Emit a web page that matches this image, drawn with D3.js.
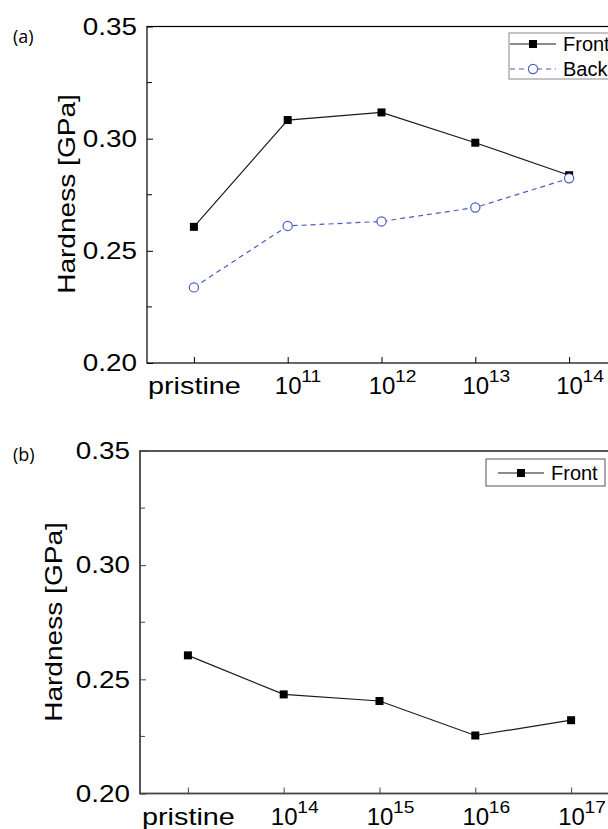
<!DOCTYPE html>
<html>
<head>
<meta charset="utf-8">
<script src="https://cdn.jsdelivr.net/npm/d3@7"></script>
<style>
  body { margin: 0; background: #fff; }
  svg { display: block; font-family: "Liberation Sans", Arial, sans-serif; }
</style>
</head>
<body>
<svg id="chart" width="608" height="829"></svg>
<script>
// fluence categories (pristine + exponents of 10)
var doseA = ['pristine', '11', '12', '13', '14'];
var doseB = ['pristine', '14', '15', '16', '17'];

// hardness values [GPa]
var frontA = [0.2607, 0.3083, 0.3117, 0.2982, 0.2837];
var backA = [0.2337, 0.2611, 0.2631, 0.2693, 0.2823];
var frontB = [0.2605, 0.2434, 0.2405, 0.2254, 0.2321];

var yTicks = [0.20, 0.25, 0.30, 0.35];
var yMinor = [0.225, 0.275, 0.325];

var svg = d3.select('#chart');
var blue = '#4b5bc2';

// stretch text horizontally (the original font is wider than Arial)
function widen(sel, k) {
    sel.each(function () {
        var w = this.getComputedTextLength();
        d3.select(this).attr('textLength', w * k).attr('lengthAdjust', 'spacingAndGlyphs');
    });
}

function panel(opt) {
    var x = d3.scalePoint().domain(opt.dose).range([opt.left, opt.right]).padding(0.5);
    var y = d3.scaleLinear().domain([0.20, 0.35]).range([opt.bottom, opt.top]);
    var g = svg.append('g');

    // frame
    g.append('rect')
        .attr('x', opt.left).attr('y', opt.top)
        .attr('width', opt.right - opt.left).attr('height', opt.bottom - opt.top)
        .attr('fill', 'none').attr('stroke', opt.axisColor).attr('stroke-width', opt.axisWidth);

    // y axis, ticks inward
    var ya = g.append('g').attr('transform', 'translate(' + opt.left + ',0)')
        .call(d3.axisLeft(y).tickValues(yTicks).tickFormat(d3.format('.2f')).tickSizeInner(-6).tickSizeOuter(0).tickPadding(10));
    ya.select('.domain').remove();
    ya.selectAll('line').attr('stroke', opt.axisColor);
    ya.selectAll('text').attr('font-size', 24).attr('fill', '#000').call(widen, 1.16);
    g.append('g').selectAll('line').data(yMinor).join('line')
        .attr('x1', opt.left).attr('x2', opt.left + 5)
        .attr('y1', function (d) { return y(d); }).attr('y2', function (d) { return y(d); })
        .attr('stroke', opt.axisColor);

    // x axis, ticks inward
    var xa = g.append('g').attr('transform', 'translate(0,' + opt.bottom + ')')
        .call(d3.axisBottom(x).tickSizeInner(-6).tickSizeOuter(0).tickFormat(''));
    xa.select('.domain').remove();
    xa.selectAll('line').attr('stroke', opt.axisColor);
    xa.selectAll('.tick').each(function (d) {
        var t = d3.select(this);
        if (d === 'pristine') {
            t.append('text').attr('y', 31).attr('text-anchor', 'middle')
                .attr('font-size', 24).attr('fill', '#000').text(d).call(widen, 1.2);
        } else {
            t.append('text').attr('y', 31).attr('text-anchor', 'middle')
                .attr('font-size', 24).attr('fill', '#000').text('10');
            t.append('text').attr('x', 13).attr('y', 19).attr('text-anchor', 'start')
                .attr('font-size', 16).attr('fill', '#000').text(d).call(widen, 1.2);
        }
    });

    // y label
    g.append('text')
        .attr('transform', 'translate(' + opt.labelX + ',' + opt.labelY + ') rotate(-90)')
        .attr('text-anchor', 'middle').attr('font-size', 24).attr('fill', '#000')
        .text('Hardness [GPa]').call(widen, 1.17);

    // panel letter
    g.append('text').attr('x', 13).attr('y', opt.letterY)
        .attr('font-family', '"Open Sans", "Noto Sans", sans-serif')
        .attr('font-size', 18).attr('fill', '#000').text(opt.letter);

    var line = d3.line().x(function (d, i) { return x(opt.dose[i]); }).y(function (d) { return y(d); });

    opt.series.forEach(function (s) {
        g.append('path').datum(s.values).attr('d', line)
            .attr('fill', 'none').attr('stroke', s.color).attr('stroke-width', 1.2)
            .attr('stroke-dasharray', s.dash || null);
        if (s.marker === 'square') {
            g.append('g').selectAll('rect').data(s.values).join('rect')
                .attr('x', function (d, i) { return x(opt.dose[i]) - 4; })
                .attr('y', function (d) { return y(d) - 4; })
                .attr('width', 8).attr('height', 8).attr('fill', '#000');
        } else {
            g.append('g').selectAll('circle').data(s.values).join('circle')
                .attr('cx', function (d, i) { return x(opt.dose[i]); })
                .attr('cy', function (d) { return y(d); })
                .attr('r', 4.6).attr('fill', '#fff').attr('stroke', s.color).attr('stroke-width', 1.2);
        }
    });

    // legend
    var lg = g.append('g');
    lg.append('rect').attr('x', opt.legend.x).attr('y', opt.legend.y)
        .attr('width', opt.legend.w).attr('height', opt.legend.h)
        .attr('fill', '#fff').attr('stroke', opt.legend.stroke).attr('stroke-width', 1);
    opt.series.forEach(function (s, i) {
        var cy = opt.legend.y + opt.legend.row0 + i * 25;
        var x0 = opt.legend.x + opt.legend.pad, x1 = x0 + opt.legend.len, xm = (x0 + x1) / 2;
        lg.append('line').attr('x1', x0).attr('x2', x1).attr('y1', cy).attr('y2', cy)
            .attr('stroke', s.color).attr('stroke-width', 1.2).attr('stroke-dasharray', s.dash || null);
        if (s.marker === 'square') {
            lg.append('rect').attr('x', xm - 4).attr('y', cy - 4).attr('width', 8).attr('height', 8).attr('fill', '#000');
        } else {
            lg.append('circle').attr('cx', xm).attr('cy', cy).attr('r', 4.6)
                .attr('fill', '#fff').attr('stroke', s.color).attr('stroke-width', 1.2);
        }
        lg.append('text').attr('x', x1 + 7).attr('y', cy).attr('dy', '0.36em')
            .attr('font-size', 20).attr('fill', '#000').text(s.name);
    });
}

panel({
    dose: doseA, left: 147, right: 616, top: 26.5, bottom: 363,
    axisColor: '#000', axisWidth: 1.2,
    labelX: 75, labelY: 194, letter: '(a)', letterY: 43,
    series: [
        { name: 'Front', values: frontA, color: '#1a1a1a', marker: 'square' },
        { name: 'Back', values: backA, color: blue, marker: 'circle', dash: '5,4' }
    ],
    legend: { x: 509, y: 33, w: 110, h: 46, row0: 11, pad: 1, len: 46, stroke: '#888' }
});

panel({
    dose: doseB, left: 140, right: 619, top: 451, bottom: 793.5,
    axisColor: '#444', axisWidth: 1.8,
    labelX: 62, labelY: 622, letter: '(b)', letterY: 461,
    series: [
        { name: 'Front', values: frontB, color: '#1a1a1a', marker: 'square' }
    ],
    legend: { x: 486, y: 459, w: 119, h: 27, row0: 14, pad: 12, len: 46, stroke: '#555' }
});
</script>
</body>
</html>
